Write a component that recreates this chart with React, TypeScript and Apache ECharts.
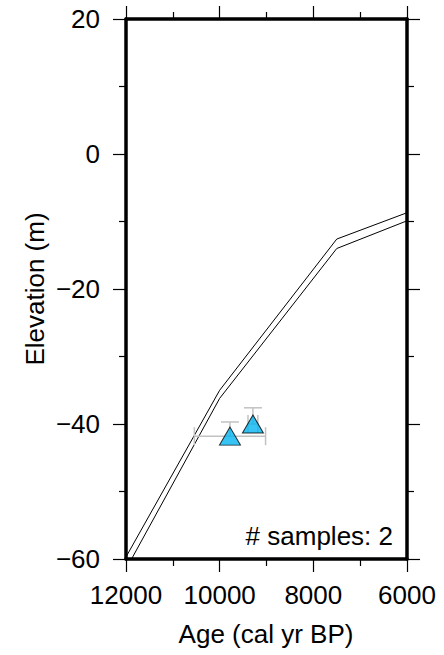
import React, { useEffect, useRef } from "react";
import * as echarts from "echarts";

// Sample points
const sampleAges = [9780, 9290];
const sampleElev = [-41.8, -40.0];
const sampleAgeErr = [760, 105];
const sampleElevErr = [2.1, 2.4];

// Envelope lines
const envAges = [12000, 10000, 7500, 6000];
const envUpper = [-59.7, -35.0, -12.6, -8.7];
const envLower = [-61.5, -36.2, -14.0, -9.9];

// Axis ranges
const xMin = 6000;
const xMax = 12000;
const xStep = 2000;
const yMin = -60;
const yMax = 20;
const yStep = 20;

const FONT = "'Liberation Sans', Arial, Helvetica, sans-serif";

export default function App() {
  const ref = useRef<HTMLDivElement>(null);
  useEffect(() => {
    if (!ref.current) return;
    const chart = echarts.init(ref.current, undefined, { renderer: "svg" });
    const tickStyle = { color: "#000", width: 1.2 };
    const lineAxis = { show: true, onZero: false, lineStyle: { color: "#000", width: 3.5 } };
    const commonX = {
      type: "value" as const,
      inverse: true,
      min: xMin,
      max: xMax,
      interval: xStep,
      axisLine: lineAxis,
      axisTick: { show: true, length: 13, lineStyle: tickStyle },
      minorTick: { show: true, splitNumber: 2, length: 7, lineStyle: tickStyle },
      splitLine: { show: false },
      minorSplitLine: { show: false },
    };
    const commonY = {
      type: "value" as const,
      min: yMin,
      max: yMax,
      interval: yStep,
      axisLine: lineAxis,
      axisTick: { show: true, length: 13, lineStyle: tickStyle },
      minorTick: { show: true, splitNumber: 2, length: 7, lineStyle: tickStyle },
      splitLine: { show: false },
      minorSplitLine: { show: false },
    };
    const errData = sampleAges.map((a, i) => [a, sampleElev[i], sampleAgeErr[i], sampleElevErr[i]]);
    chart.setOption({
      animation: false,
      grid: { left: 126, top: 19, right: 37, bottom: 96 },
      xAxis: [
        {
          ...commonX,
          position: "bottom",
          axisLabel: {
            show: true,
            fontSize: 26,
            fontFamily: FONT,
            color: "#000",
            margin: 23,
            showMinLabel: true,
            showMaxLabel: true,
            formatter: (v: number) => String(v),
          },
        },
        { ...commonX, position: "top", axisLabel: { show: false } },
      ],
      yAxis: [
        {
          ...commonY,
          position: "left",
          axisLabel: {
            show: true,
            fontSize: 26,
            fontFamily: FONT,
            color: "#000",
            margin: 26,
            showMinLabel: true,
            showMaxLabel: true,
            formatter: (v: number) => String(v).replace("-", "\u2212"),
          },
        },
        { ...commonY, position: "right", axisLabel: { show: false } },
      ],
      graphic: [
        {
          type: "text",
          x: 35,
          y: 289,
          rotation: Math.PI / 2,
          style: {
            text: "Elevation (m)",
            fontSize: 26,
            fontFamily: FONT,
            fill: "#000",
            align: "center",
            verticalAlign: "middle",
          },
        },
        {
          type: "text",
          x: 266,
          y: 634,
          style: {
            text: "Age (cal yr BP)",
            fontSize: 26,
            fontFamily: FONT,
            fill: "#000",
            align: "center",
            verticalAlign: "middle",
          },
        },
        {
          type: "text",
          x: 393,
          y: 536,
          style: {
            text: "# samples: 2",
            fontSize: 26,
            fontFamily: FONT,
            fill: "#000",
            align: "right",
            verticalAlign: "middle",
          },
        },
      ],
      series: [
        {
          type: "line",
          data: envAges.map((a, i) => [a, envUpper[i]]),
          symbol: "none",
          lineStyle: { color: "#000", width: 1 },
          clip: true,
          z: 2,
        },
        {
          type: "line",
          data: envAges.map((a, i) => [a, envLower[i]]),
          symbol: "none",
          lineStyle: { color: "#000", width: 1 },
          clip: true,
          z: 2,
        },
        {
          type: "custom",
          data: errData,
          z: 3,
          renderItem: (params: any, api: any) => {
            const a = api.value(0);
            const e = api.value(1);
            const da = api.value(2);
            const de = api.value(3);
            const pL = api.coord([a + da, e]);
            const pR = api.coord([a - da, e]);
            const pT = api.coord([a, e + de]);
            const pC = api.coord([a, e]);
            const c = 9;
            const st = { stroke: "#c2c2c2", lineWidth: 1.5 };
            return {
              type: "group",
              children: [
                { type: "line", shape: { x1: pL[0], y1: pL[1], x2: pR[0], y2: pR[1] }, style: st },
                { type: "line", shape: { x1: pL[0], y1: pL[1] - c, x2: pL[0], y2: pL[1] + c }, style: st },
                { type: "line", shape: { x1: pR[0], y1: pR[1] - c, x2: pR[0], y2: pR[1] + c }, style: st },
                { type: "line", shape: { x1: pT[0], y1: pT[1], x2: pC[0], y2: pC[1] }, style: st },
                { type: "line", shape: { x1: pT[0] - c, y1: pT[1], x2: pT[0] + c, y2: pT[1] }, style: st },
              ],
            };
          },
        },
        {
          type: "scatter",
          data: sampleAges.map((a, i) => [a, sampleElev[i]]),
          symbol: "triangle",
          symbolSize: [21, 18],
          itemStyle: { color: "#05b4f0", borderColor: "#000", borderWidth: 1 },
          z: 4,
        },
      ],
    });
    return () => chart.dispose();
  }, []);
  return (
    <div
      ref={ref}
      style={{ position: "fixed", left: 0, top: 0, width: 444, height: 655, background: "#fff" }}
    />
  );
}
